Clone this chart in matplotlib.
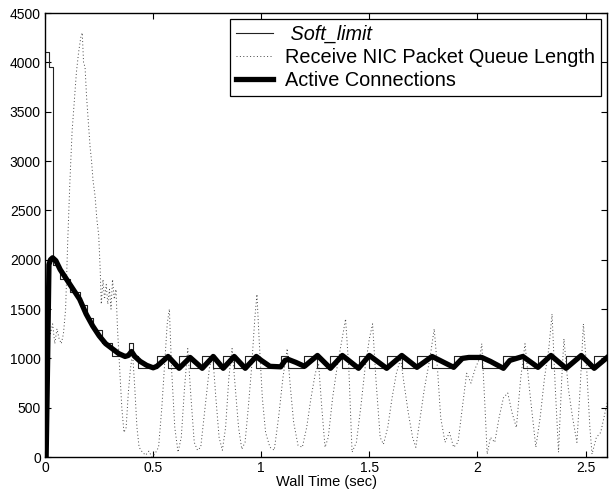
import matplotlib
matplotlib.use('Agg')
import matplotlib.pyplot as plt

plt.rcParams['font.family'] = ['Liberation Sans', 'DejaVu Sans']

# Soft_limit: step edges (sec) and level held from each edge
limit_t = [0.0, 0.018, 0.039, 0.069, 0.116, 0.162, 0.193, 0.224, 0.262, 0.309,
           0.386, 0.409, 0.432, 0.517, 0.569, 0.620, 0.671, 0.727, 0.778, 0.824,
           0.875, 0.926, 0.977, 1.09, 1.125, 1.20, 1.26, 1.32, 1.375, 1.45,
           1.50, 1.58, 1.65, 1.72, 1.79, 1.89, 2.02, 2.12, 2.21, 2.28,
           2.34, 2.41, 2.48, 2.54, 2.60]
limit_v = [4100, 3950, 1950, 1800, 1670, 1540, 1410, 1290, 1155, 1025,
           1155, 1025, 900, 1020, 900, 1020, 900, 1020, 900, 1020,
           900, 1020, 900, 1020, 900, 1020, 900, 1020, 900, 1020,
           900, 1020, 900, 1020, 900, 1020, 900, 1020, 900, 1020,
           900, 1020, 900, 1020, 1020]

# Receive NIC packet queue length
nic_t = [0.000, 0.005, 0.008, 0.012, 0.018, 0.025, 0.035, 0.045, 0.055, 0.065,
         0.075, 0.085, 0.095, 0.105, 0.115, 0.125, 0.135, 0.145, 0.155, 0.165,
         0.172, 0.178, 0.185, 0.192, 0.200, 0.208, 0.215, 0.222, 0.231, 0.240,
         0.248, 0.255, 0.260, 0.268, 0.275, 0.283, 0.290, 0.298, 0.305, 0.312,
         0.320, 0.328, 0.335, 0.345, 0.355, 0.365, 0.375, 0.385, 0.395, 0.405,
         0.415, 0.425, 0.435, 0.450, 0.465, 0.480, 0.495, 0.510, 0.525, 0.540,
         0.555, 0.565, 0.575, 0.585, 0.600, 0.615, 0.630, 0.645, 0.660, 0.675,
         0.690, 0.705, 0.720, 0.740, 0.760, 0.775, 0.790, 0.805, 0.820, 0.835,
         0.850, 0.865, 0.880, 0.895, 0.910, 0.925, 0.940, 0.955, 0.970, 0.980,
         0.990, 1.005, 1.020, 1.040, 1.060, 1.080, 1.100, 1.120, 1.135, 1.150,
         1.170, 1.190, 1.210, 1.230, 1.250, 1.265, 1.280, 1.295, 1.310, 1.330,
         1.350, 1.370, 1.390, 1.405, 1.420, 1.440, 1.460, 1.480, 1.500, 1.515,
         1.530, 1.550, 1.565, 1.585, 1.605, 1.625, 1.645, 1.660, 1.680, 1.700,
         1.715, 1.735, 1.755, 1.780, 1.800, 1.815, 1.830, 1.850, 1.870, 1.890,
         1.910, 1.930, 1.950, 1.970, 1.990, 2.010, 2.020, 2.035, 2.045, 2.060,
         2.080, 2.100, 2.120, 2.140, 2.160, 2.180, 2.200, 2.220, 2.240, 2.260,
         2.270, 2.290, 2.310, 2.330, 2.345, 2.360, 2.375, 2.390, 2.400, 2.420,
         2.440, 2.460, 2.475, 2.490, 2.505, 2.520, 2.530, 2.550, 2.570, 2.585,
         2.600]
nic_v = [0, 0, 1500, 900, 1400, 1250, 1350, 1150, 1300, 1200,
         1150, 1250, 1500, 2200, 2800, 3300, 3600, 3900, 4100, 4250,
         4300, 4000, 3950, 3650, 3400, 3150, 3000, 2800, 2650, 2400,
         2250, 1900, 1550, 1800, 1600, 1750, 1550, 1700, 1500, 1800,
         1600, 1700, 1300, 900, 500, 250, 300, 650, 900, 1050,
         700, 300, 100, 50, 20, 60, 0, 40, 100, 500,
         1000, 1350, 1500, 900, 300, 50, 200, 700, 1100, 600,
         150, 70, 100, 500, 900, 1050, 600, 200, 70, 300,
         800, 1100, 700, 300, 80, 150, 500, 900, 1400, 1650,
         1200, 600, 250, 100, 70, 400, 800, 1100, 700, 350,
         120, 100, 300, 600, 850, 950, 500, 100, 200, 600,
         900, 1150, 1400, 900, 50, 150, 500, 900, 1200, 1350,
         800, 200, 130, 300, 600, 850, 1000, 750, 450, 200,
         100, 400, 700, 1000, 1300, 900, 400, 150, 250, 100,
         150, 500, 850, 750, 900, 1000, 1150, 500, 30, 200,
         150, 400, 600, 650, 450, 300, 800, 1150, 700, 300,
         100, 400, 800, 1100, 1450, 700, 50, 800, 1200, 700,
         400, 150, 700, 1350, 900, 300, 30, 200, 250, 400,
         550]

# Active connections
conn_t = [0.005, 0.012, 0.018, 0.025, 0.035, 0.05, 0.07, 0.10, 0.13, 0.16,
          0.19, 0.22, 0.25, 0.28, 0.31, 0.34, 0.37, 0.385, 0.40, 0.415,
          0.44, 0.47, 0.50, 0.517, 0.569, 0.620, 0.671, 0.727, 0.778, 0.824,
          0.875, 0.926, 0.977, 1.00, 1.04, 1.09, 1.11, 1.125, 1.16, 1.20,
          1.26, 1.32, 1.375, 1.45, 1.50, 1.58, 1.65, 1.72, 1.79, 1.89,
          1.93, 1.96, 2.02, 2.06, 2.12, 2.15, 2.21, 2.28, 2.34, 2.41,
          2.48, 2.54, 2.60]
conn_v = [0, 1000, 1950, 2000, 2020, 1990, 1900, 1800, 1700, 1600,
          1450, 1330, 1230, 1150, 1100, 1050, 1020, 1030, 1070, 1020,
          970, 930, 905, 920, 1020, 900, 1010, 900, 1020, 900,
          1020, 900, 1020, 980, 920, 915, 980, 990, 960, 920,
          1030, 900, 1030, 900, 1030, 900, 1030, 910, 1020, 910,
          1000, 1010, 1010, 970, 900, 980, 1020, 910, 1030, 900,
          1030, 900, 1010]

fig = plt.figure(figsize=(6.09, 4.91), dpi=100)
ax = fig.add_axes([0.074, 0.069, 0.923, 0.9045])

ax.step(limit_t, limit_v, where='post', color='#222222', lw=0.8, label=' Soft_limit')
ax.plot(nic_t, nic_v, color='#444444', lw=0.7, ls=(0, (1, 2.5)),
        label='Receive NIC Packet Queue Length')
ax.plot(conn_t, conn_v, color='black', lw=3.8, solid_joinstyle='round',
        label='Active Connections')

ax.set_xlim(0, 2.6)
ax.set_ylim(0, 4500)
ax.set_xticks([0, 0.5, 1, 1.5, 2, 2.5])
ax.set_xticklabels(['0', '0.5', '1', '1.5', '2', '2.5'])
ax.set_yticks(range(0, 4501, 500))
ax.tick_params(direction='in', top=True, right=True, length=4, width=0.8,
               labelsize=10, pad=3)
for s in ax.spines.values():
    s.set_linewidth(1.0)
ax.set_xlabel('Wall Time (sec)', fontsize=10.5, labelpad=0)

leg = ax.legend(loc='upper right', fontsize=14.3, frameon=True, fancybox=False,
                edgecolor='black', framealpha=1, handlelength=1.9,
                handletextpad=0.6, borderpad=0.3, labelspacing=0.2,
                borderaxespad=0.3)
leg.get_frame().set_linewidth(0.9)
leg.get_texts()[0].set_style('italic')

fig.savefig('out.png', dpi=100)
